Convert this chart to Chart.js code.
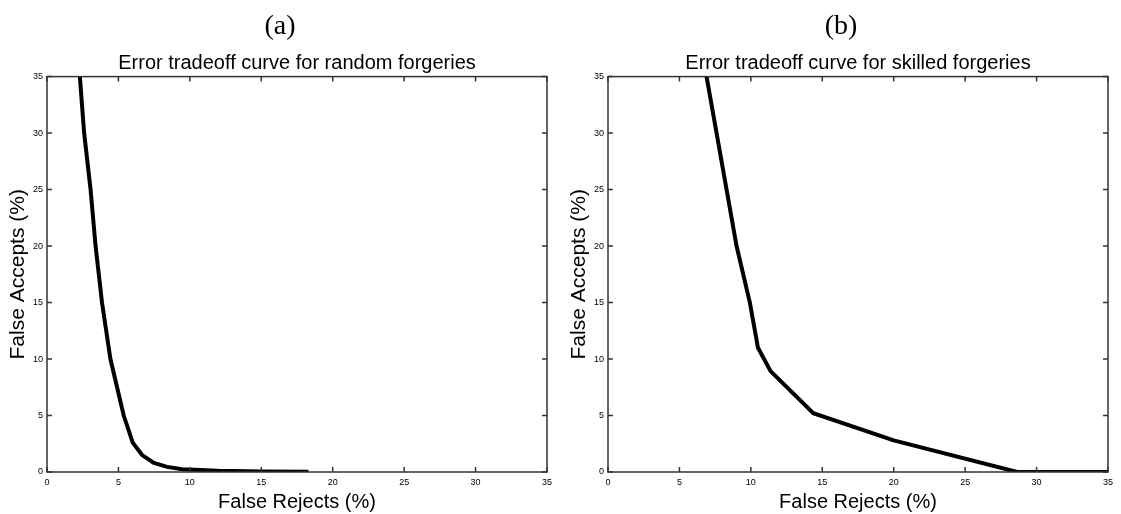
<!DOCTYPE html>
<html>
<head>
<meta charset="utf-8">
<script src="https://cdn.jsdelivr.net/npm/chart.js@4.4.1/dist/chart.umd.min.js"></script>
<style>
  body { margin: 0; background: #fff; }
  .panel { position: absolute; top: 0; width: 560px; height: 514px; }
</style>
</head>
<body>
<div class="panel" style="left:0"><canvas id="chartA" width="560" height="514"></canvas></div>
<div class="panel" style="left:561px"><canvas id="chartB" width="560" height="514"></canvas></div>
<script>
// values
const rejectsA = [2.3, 2.6, 3.05, 3.4, 3.85, 4.44, 5.37, 6.0, 6.66, 7.48, 8.41, 9.46, 12, 15, 18.3];
const acceptsA = [35, 30, 25, 20, 15, 10, 5, 2.6, 1.5, 0.8, 0.45, 0.24, 0.1, 0.05, 0.02];

const rejectsB = [6.9, 7.6, 8.3, 9.0, 9.93, 10.5, 11.38, 14.37, 20, 28.64, 35];
const acceptsB = [35, 30, 25, 20, 15, 11, 8.93, 5.2, 2.8, 0, 0];

const axisMin = 0;
const axisMax = 35;
const axisStep = 5;

// matlab style box with inward ticks on all four sides
const boxTicks = {
  id: 'boxTicks',
  afterLayout(chart) {
    // center the subtitle over the plot area, the panel letter a bit left of it
    const a = chart.chartArea;
    chart.boxes.forEach(b => {
      if (b.position !== 'top' || b.axis) return;
      if (b === chart.titleBlock) {
        b.left = a.left - 34;
      } else {
        b.left = a.left;
      }
      b.right = a.right;
    });
  },
  afterDatasetsDraw(chart) {
    const { ctx, chartArea: a, scales } = chart;
    const len = 5;
    ctx.save();
    ctx.strokeStyle = '#333';
    ctx.lineWidth = 1.5;
    ctx.strokeRect(a.left, a.top, a.right - a.left, a.bottom - a.top);
    ctx.beginPath();
    scales.x.ticks.forEach(t => {
      const px = scales.x.getPixelForValue(t.value);
      ctx.moveTo(px, a.bottom); ctx.lineTo(px, a.bottom - len);
      ctx.moveTo(px, a.top); ctx.lineTo(px, a.top + len);
    });
    scales.y.ticks.forEach(t => {
      const py = scales.y.getPixelForValue(t.value);
      ctx.moveTo(a.left, py); ctx.lineTo(a.left + len, py);
      ctx.moveTo(a.right, py); ctx.lineTo(a.right - len, py);
    });
    ctx.stroke();
    ctx.restore();
  }
};

function makeChart(id, letter, title, xs, ys) {
  const ctx = document.getElementById(id).getContext('2d');
  return new Chart(ctx, {
    type: 'scatter',
    data: {
      datasets: [{
        data: xs.map((x, i) => ({ x: x, y: ys[i] })),
        showLine: true,
        borderColor: '#000',
        borderWidth: 4,
        pointRadius: 0,
        tension: 0
      }]
    },
    options: {
      responsive: false,
      animation: false,
      layout: { padding: { top: 10, right: 13, bottom: 0, left: 0 } },
      plugins: {
        legend: { display: false },
        tooltip: { enabled: false },
        title: {
          display: true,
          text: letter,
          color: '#000',
          font: { family: 'Liberation Serif', size: 28, weight: 'normal' },
          padding: { top: 0, bottom: 8 }
        },
        subtitle: {
          display: true,
          text: title,
          color: '#000',
          font: { family: 'Liberation Sans', size: 20 },
          padding: { top: 0, bottom: 1 }
        }
      },
      scales: {
        x: {
          type: 'linear',
          min: axisMin,
          max: axisMax,
          afterFit: s => { s.height = 42; },
          ticks: { stepSize: axisStep, padding: 5, color: '#000', font: { family: 'Liberation Sans', size: 9 } },
          grid: { display: false, drawTicks: false },
          border: { display: false },
          title: {
            display: true,
            text: 'False Rejects (%)',
            color: '#000',
            font: { family: 'Liberation Sans', size: 20 },
            padding: { top: 5, bottom: 0 }
          }
        },
        y: {
          type: 'linear',
          min: axisMin,
          max: axisMax,
          afterFit: s => { s.width = 47; },
          ticks: { stepSize: axisStep, padding: 4, color: '#000', font: { family: 'Liberation Sans', size: 9 } },
          grid: { display: false, drawTicks: false },
          border: { display: false },
          title: {
            display: true,
            text: 'False Accepts (%)',
            color: '#000',
            font: { family: 'Liberation Sans', size: 21 },
            padding: { top: 6, bottom: 0 }
          }
        }
      }
    },
    plugins: [boxTicks]
  });
}

makeChart('chartA', '(a)', 'Error tradeoff curve for random forgeries', rejectsA, acceptsA);
makeChart('chartB', '(b)', 'Error tradeoff curve for skilled forgeries', rejectsB, acceptsB);
</script>
</body>
</html>
